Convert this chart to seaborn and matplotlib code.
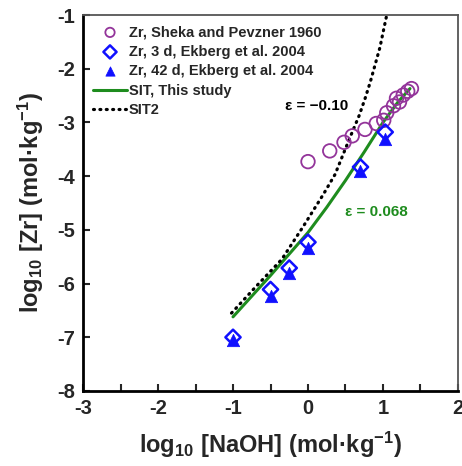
import numpy as np
import pandas as pd
import matplotlib
matplotlib.use("Agg")
import matplotlib.pyplot as plt
import seaborn as sns

# ---- data ----
sheka_x = [0.00, 0.29, 0.48, 0.59, 0.76, 0.91, 1.01, 1.05, 1.14, 1.18, 1.22, 1.27, 1.33, 1.38]
sheka_y = [-3.73, -3.53, -3.37, -3.25, -3.13, -3.02, -2.96, -2.82, -2.69, -2.55, -2.62, -2.49, -2.42, -2.37]

ek3_x = [-1.0, -0.5, -0.25, 0.0, 0.7, 1.03]
ek3_y = [-7.0, -6.11, -5.71, -5.23, -3.83, -3.18]

ek42_x = [-1.0, -0.5, -0.25, 0.0, 0.7, 1.03]
ek42_y = [-7.05, -6.24, -5.80, -5.33, -3.90, -3.30]

sit_x = [-1.0, -0.5, 0.0, 0.25, 0.5, 0.75, 1.0, 1.2, 1.36]
sit_y = [-6.62, -5.85, -5.05, -4.58, -4.08, -3.55, -3.00, -2.62, -2.37]

sit2_x = [-1.02, -0.69, -0.35, -0.06, 0.20, 0.36, 0.56, 0.68, 0.76, 0.83, 0.89, 0.96, 1.00, 1.05]
sit2_y = [-6.55, -6.05, -5.55, -4.93, -4.35, -3.97, -3.28, -2.88, -2.56, -2.25, -1.95, -1.60, -1.33, -1.00]

labels = ["Zr, Sheka and Pevzner 1960", "Zr, 3 d, Ekberg et al. 2004",
          "Zr, 42 d, Ekberg et al. 2004", "SIT, This study", "SIT2"]
xticks = [-3, -2, -1, 0, 1, 2]
yticks = [-8, -7, -6, -5, -4, -3, -2, -1]

sns.set_style("ticks")
plt.rcParams['font.family'] = ["Liberation Sans", "DejaVu Sans"]
plt.rcParams['mathtext.fontset'] = 'custom'
plt.rcParams['mathtext.rm'] = 'Liberation Sans:bold'
plt.rcParams['mathtext.it'] = 'Liberation Sans:bold'
plt.rcParams['mathtext.bf'] = 'Liberation Sans:bold'
plt.rcParams['mathtext.default'] = 'rm'

fig = plt.figure(figsize=(4.62, 4.66), dpi=100)
ax = fig.add_axes([0.1797, 0.161, 0.9913 - 0.1797, 0.9678 - 0.161])

purple = "#93349a"
blue = "#1010ff"
green = "#1e8c1e"

df_s = pd.DataFrame({"x": sheka_x, "y": sheka_y})
df_3 = pd.DataFrame({"x": ek3_x, "y": ek3_y})
df_42 = pd.DataFrame({"x": ek42_x, "y": ek42_y})
df_sit = pd.DataFrame({"x": sit_x, "y": sit_y})
df_sit2 = pd.DataFrame({"x": sit2_x, "y": sit2_y})

sns.scatterplot(data=df_s, x="x", y="y", ax=ax, marker="o", s=95,
                facecolor="none", edgecolor=purple, linewidth=1.3, label=labels[0], zorder=3)
sns.scatterplot(data=df_42, x="x", y="y", ax=ax, marker="^", s=80,
                color=blue, edgecolor=blue, linewidth=0.5, label=labels[2], zorder=4)
sns.scatterplot(data=df_3, x="x", y="y", ax=ax, marker="D", s=60,
                facecolor="none", edgecolor=blue, linewidth=1.8, label=labels[1], zorder=5)
sns.lineplot(data=df_sit, x="x", y="y", ax=ax, color=green, linewidth=2.2,
             label=labels[3], sort=False, zorder=2)
sns.lineplot(data=df_sit2, x="x", y="y", ax=ax, color="black", linewidth=2.3,
             linestyle=(0, (0.3, 1.7)), dash_capstyle="round", label=labels[4],
             sort=False, zorder=2)

ax.set_xlim(-3, 2)
ax.set_ylim(-8, -1)
ax.set_xticks(xticks)
ax.set_yticks(yticks)
ax.set_xticks(np.arange(-3, 2.01, 0.5), minor=True)
ax.set_xticklabels([str(t) for t in xticks])
ax.set_yticklabels([str(t) for t in yticks])
ax.tick_params(axis="both", which="both", direction="in", width=1.5, length=5,
               labelsize=14.5, top=False, right=False, pad=6)
for lab in ax.get_xticklabels() + ax.get_yticklabels():
    lab.set_fontweight("bold")

for side in ["left", "bottom"]:
    ax.spines[side].set_linewidth(2)
    ax.spines[side].set_color("black")
for side in ["top", "right"]:
    ax.spines[side].set_visible(True)
    ax.spines[side].set_linewidth(1.3)
    ax.spines[side].set_color("#555555")

ax.set_xlabel("log$_{10}$ [NaOH] (mol·kg$^{-1}$)", fontsize=17,
              fontweight="bold", labelpad=8)
ax.set_ylabel("log$_{10}$ [Zr] (mol·kg$^{-1}$)", fontsize=17,
              fontweight="bold", labelpad=8)

ax.text(-0.31, -2.70, "ε = −0.10", fontsize=11, fontweight="bold", color="black",
        va="center", ha="left")
ax.text(0.49, -4.67, "ε = 0.068", fontsize=11, fontweight="bold", color=green,
        va="center", ha="left")

handles, labs = ax.get_legend_handles_labels()
order = [labs.index(l) for l in labels]
leg = ax.legend([handles[i] for i in order], [labs[i] for i in order],
                loc="upper left", frameon=False, handlelength=2.3,
                handletextpad=0.15, labelspacing=0.38, borderaxespad=0.3,
                prop={"weight": "bold", "size": 10.5})
for h in leg.legend_handles:
    try:
        h.set_sizes([45])
    except Exception:
        pass

fig.savefig("out.png", dpi=100)
